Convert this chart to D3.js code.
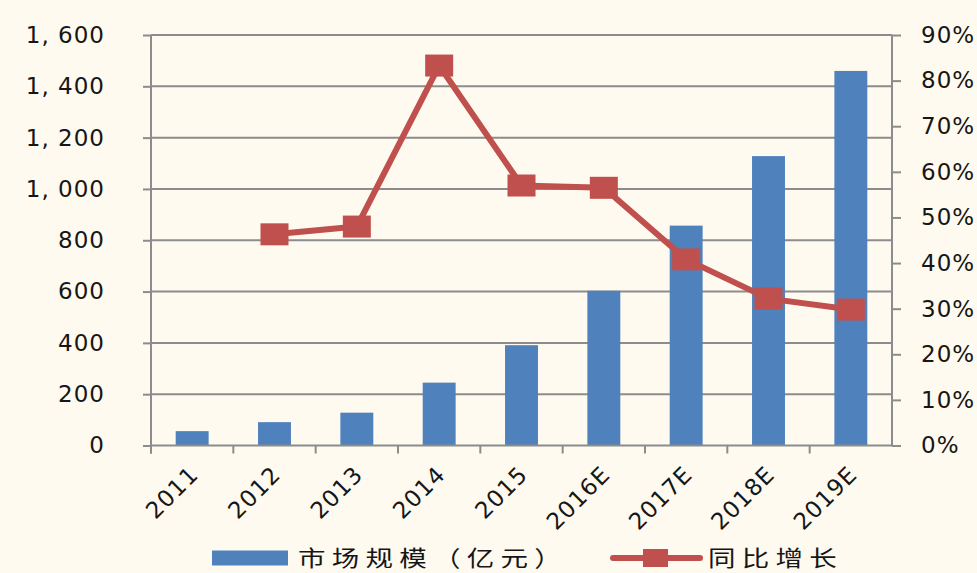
<!DOCTYPE html>
<html>
<head>
<meta charset="utf-8">
<script src="https://cdn.jsdelivr.net/npm/d3@7"></script>
<style>
	html, body { margin: 0; padding: 0; background: #fffaef; }
	svg { display: block; }
	text { fill: #161616; }
</style>
</head>
<body>
<div id="container"></div>
<script>
//// Market size bar + growth line ////

// Categories
const years = ["2011", "2012", "2013", "2014", "2015", "2016E", "2017E", "2018E", "2019E"];
// Market size (100 million yuan)
const marketSize = [56, 91, 128, 245, 391, 603, 857, 1128, 1460];
// Year-on-year growth (%)
const growth = [null, 46.3, 48.0, 83.3, 57.0, 56.5, 40.8, 32.2, 29.8];
// Tick values
const leftTicks = [0, 200, 400, 600, 800, 1000, 1200, 1400, 1600];
const rightTicks = [0, 10, 20, 30, 40, 50, 60, 70, 80, 90];
// Legend labels
const legendLabels = ["市场规模（亿元）", "同比增长"];

const width = 977, height = 573;
const plotLeft = 151, plotRight = 892, plotTop = 35, plotBottom = 445.5;
const barColor = "#4f81bd", lineColor = "#c0504d", gridColor = "#8c8c8c";

const svg = d3.create("svg")
	.attr("width", width)
	.attr("height", height);

// Scales
const x = d3.scaleBand()
	.domain(years)
	.range([plotLeft, plotRight])
	.paddingInner(0.6)
	.paddingOuter(0.3);

const y = d3.scaleLinear().domain([0, 1600]).range([plotBottom, plotTop]);
const yR = d3.scaleLinear().domain([0, 90]).range([plotBottom, plotTop]);

// Gridlines
svg.append("g")
	.selectAll("line")
	.data(leftTicks.slice(1))
	.join("line")
	.attr("x1", plotLeft)
	.attr("x2", plotRight)
	.attr("y1", d => y(d))
	.attr("y2", d => y(d))
	.attr("stroke", gridColor)
	.attr("stroke-width", 2);

// Bars
svg.append("g")
	.selectAll("rect")
	.data(marketSize)
	.join("rect")
	.attr("x", (d, i) => x(years[i]))
	.attr("y", d => y(d))
	.attr("width", x.bandwidth())
	.attr("height", d => y(0) - y(d))
	.attr("fill", barColor);

// Left axis
const fmt = d => d3.format(",")(d).replace(",", ", ");
const gLeft = svg.append("g")
	.attr("transform", `translate(${plotLeft},0)`)
	.call(d3.axisLeft(y).tickValues(leftTicks).tickSize(8).tickPadding(38).tickFormat(fmt));

// Right axis
const gRight = svg.append("g")
	.attr("transform", `translate(${plotRight},0)`)
	.call(d3.axisRight(yR).tickValues(rightTicks).tickSize(9).tickPadding(20).tickFormat(d => d + "%"));

// Bottom axis (ticks between categories)
const step = x.step();
const bounds = years.map(d => x(d) - (step - x.bandwidth()) / 2);
bounds[0] = plotLeft;
const gBottom = svg.append("g");
gBottom.append("line")
	.attr("x1", plotLeft).attr("x2", plotRight)
	.attr("y1", plotBottom).attr("y2", plotBottom)
	.attr("stroke", gridColor).attr("stroke-width", 2);
gBottom.selectAll("line.tick")
	.data(bounds)
	.join("line")
	.attr("class", "tick")
	.attr("x1", d => d).attr("x2", d => d)
	.attr("y1", plotBottom).attr("y2", plotBottom + 8)
	.attr("stroke", gridColor).attr("stroke-width", 2);
gBottom.selectAll("text")
	.data(years)
	.join("text")
	.attr("transform", d => `translate(${x(d) + x.bandwidth() / 2 - 4},${plotBottom + 19}) rotate(-45)`)
	.attr("text-anchor", "end")
	.attr("dy", "0.71em")
	.style("font-family", "DejaVu Sans, sans-serif")
	.style("font-size", "23px")
	.style("letter-spacing", "1px")
	.text(d => d);

// Style axes
[gLeft, gRight].forEach(g => {
	g.select(".domain").attr("stroke", gridColor).attr("stroke-width", 2);
	g.selectAll(".tick line").attr("stroke", gridColor).attr("stroke-width", 2);
	g.selectAll(".tick text")
		.attr("fill", "#161616")
		.style("font-family", "DejaVu Sans, sans-serif")
		.style("font-size", "23px")
		.style("letter-spacing", "1px");
});
gLeft.select(".domain").attr("d", `M0,${plotTop}V${plotBottom + 8}`);
gRight.select(".domain").attr("d", `M0,${plotTop}V${plotBottom}`);

// Growth line
const pts = growth.map((g, i) => ({ year: years[i], g })).filter(d => d.g != null);
const cx = d => x(d.year) + x.bandwidth() / 2;
svg.append("path")
	.datum(pts)
	.attr("fill", "none")
	.attr("stroke", lineColor)
	.attr("stroke-width", 6)
	.attr("stroke-linejoin", "round")
	.attr("d", d3.line().x(cx).y(d => yR(d.g)));

svg.append("g")
	.selectAll("rect")
	.data(pts)
	.join("rect")
	.attr("x", d => cx(d) - 14)
	.attr("y", d => yR(d.g) - 11)
	.attr("width", 28)
	.attr("height", 22)
	.attr("fill", lineColor);

// Legend
const legend = svg.append("g");
const ly = 558;
legend.append("rect")
	.attr("x", 212).attr("y", ly - 7.5)
	.attr("width", 76).attr("height", 15)
	.attr("fill", barColor);
legend.append("line")
	.attr("x1", 613).attr("x2", 700)
	.attr("y1", ly).attr("y2", ly)
	.attr("stroke", lineColor).attr("stroke-width", 6)
	.attr("stroke-linecap", "round");
legend.append("rect")
	.attr("x", 643).attr("y", ly - 9)
	.attr("width", 25).attr("height", 18)
	.attr("fill", lineColor);
// glyphs in the reference are stretched sideways
legend.selectAll("text")
	.data(legendLabels)
	.join("text")
	.attr("transform", (d, i) => `translate(${i === 0 ? 298 : 708},556) scale(1.25,1)`)
	.attr("dominant-baseline", "central")
	.style("font-family", "'Noto Sans CJK SC', sans-serif")
	.style("font-size", "22px")
	.style("letter-spacing", "5px")
	.text(d => d);

document.getElementById("container").append(svg.node());
</script>
</body>
</html>
